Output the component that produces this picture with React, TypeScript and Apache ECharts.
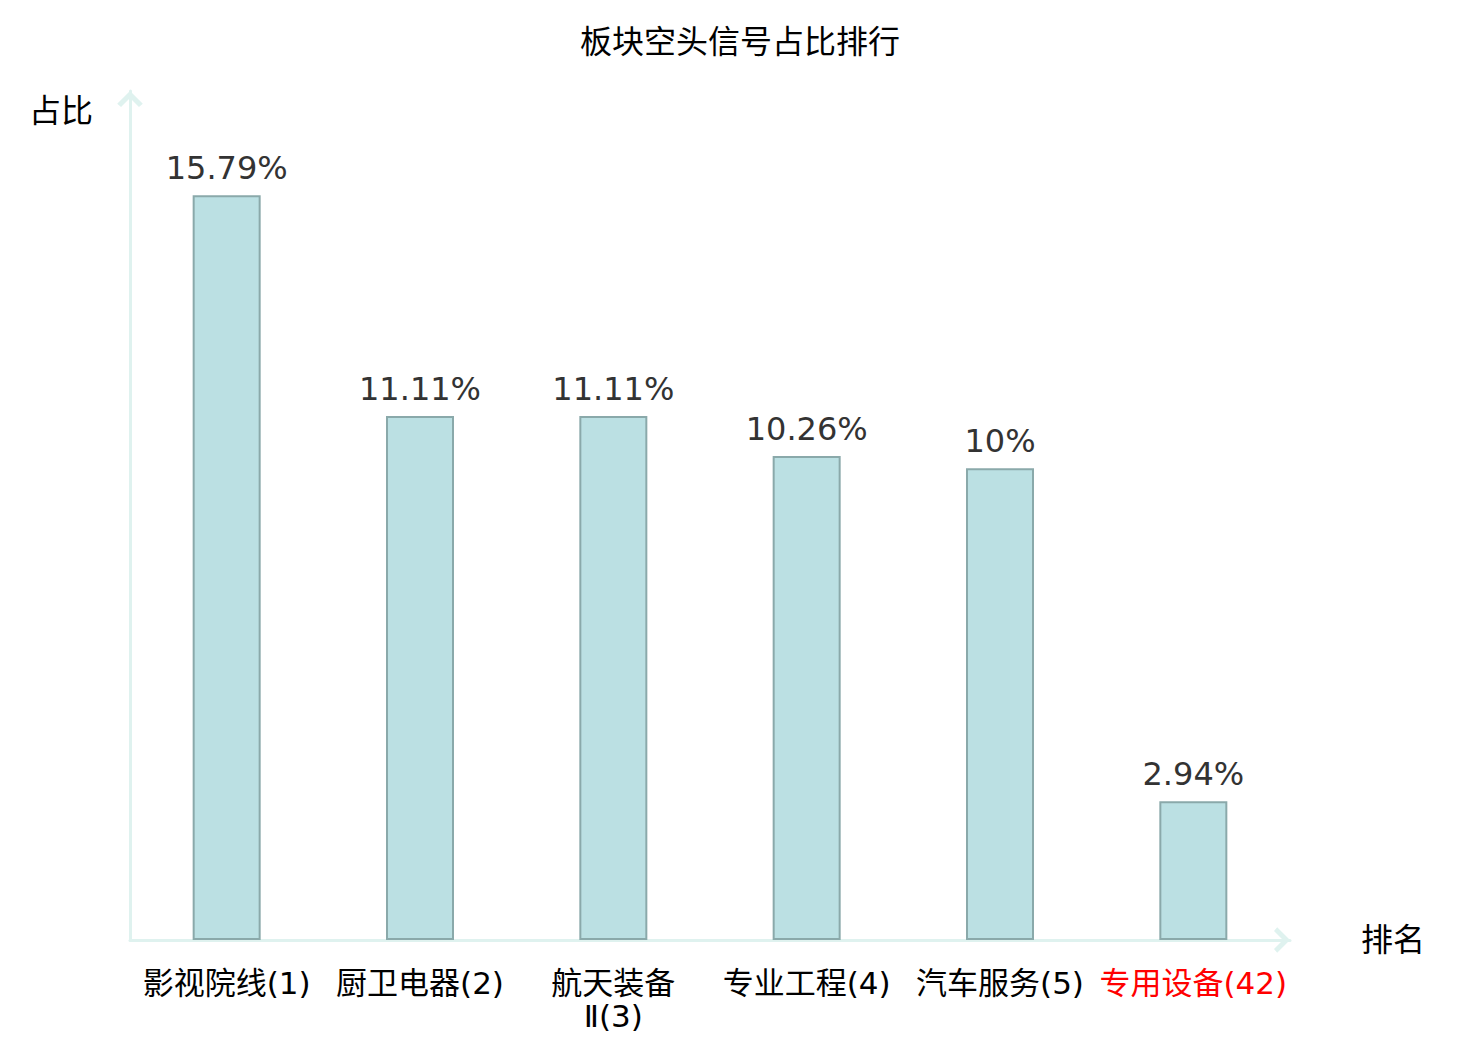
import React, { useEffect, useRef } from "react";
import * as echarts from "echarts";

const categories = ["影视院线(1)", "厨卫电器(2)", "航天装备Ⅱ(3)", "专业工程(4)", "汽车服务(5)", "专用设备(42)"];
const values = [15.79, 11.11, 11.11, 10.26, 10, 2.94];
const highlightIndex = 5;

const chevron = "path://M10,0 L20,10 L17,12.5 L10,5.5 L3,12.5 L0,10 Z";

export default function App() {
  const ref = useRef<HTMLDivElement>(null);
  useEffect(() => {
    document.body.style.margin = "0";
    const chart = echarts.init(ref.current!, undefined, { renderer: "svg" });
    chart.setOption({
      animation: false,
      backgroundColor: "#ffffff",
      textStyle: { fontFamily: "DejaVu Sans, Noto Sans CJK SC, sans-serif" },
      title: {
        text: "板块空头信号占比排行",
        left: "center",
        top: 21,
        textStyle: { fontSize: 32, fontWeight: "normal", color: "#000" },
      },
      grid: { left: 130, right: 190, top: 91, bottom: 100 },
      xAxis: {
        type: "category",
        data: categories,
        name: "排名",
        nameGap: 71,
        nameTextStyle: { fontSize: 32, color: "#000" },
        axisLine: {
          lineStyle: { color: "#dff2ef", width: 3 },
          symbol: ["none", chevron],
          symbolSize: [26, 16],
          symbolOffset: [0, -8],
        },
        axisTick: { show: false },
        axisLabel: {
          interval: 0,
          fontSize: 31,
          margin: 26,
          lineHeight: 33,
          color: (_v: string, i: number) => (i === highlightIndex ? "#ff0000" : "#000"),
          formatter: (v: string) => v.replace("Ⅱ", "\nⅡ"),
        },
      },
      yAxis: {
        type: "value",
        min: 0,
        max: 18,
        name: "占比",
        nameGap: -4,
        nameTextStyle: {
          fontSize: 32,
          color: "#000",
          align: "right",
          verticalAlign: "top",
          padding: [0, 37, 0, 0],
        },
        axisLine: {
          show: true,
          lineStyle: { color: "#dff2ef", width: 3 },
          symbol: ["none", chevron],
          symbolSize: [26, 16],
          symbolOffset: [0, -8],
        },
        axisTick: { show: false },
        axisLabel: { show: false },
        splitLine: { show: false },
      },
      series: [
        {
          type: "bar",
          data: values,
          barWidth: 68,
          itemStyle: { color: "#bbe0e3", borderColor: "#8aa9aa", borderWidth: 2 },
          label: {
            show: true,
            position: "top",
            distance: 11,
            fontSize: 32,
            color: "#333",
            formatter: (p: any) => `${p.value}%`,
          },
        },
      ],
    });
    return () => chart.dispose();
  }, []);
  return <div ref={ref} style={{ width: 1480, height: 1040 }} />;
}
